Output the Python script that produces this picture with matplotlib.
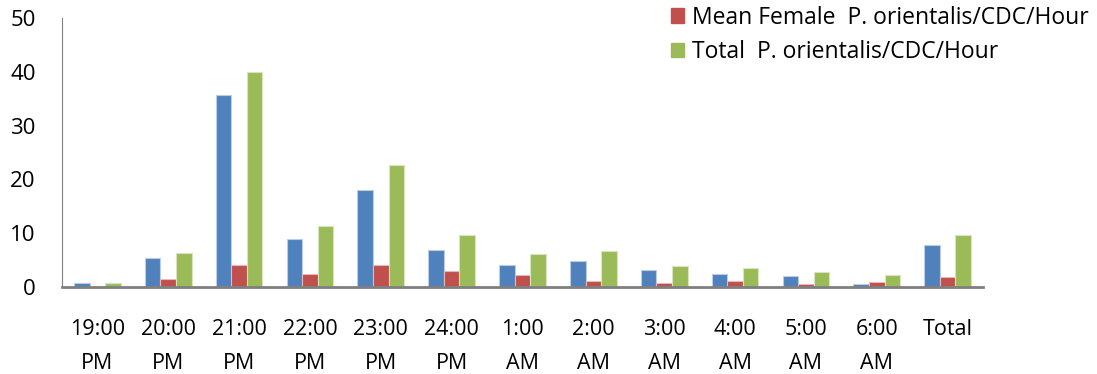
import matplotlib.pyplot as plt
import numpy as np
from matplotlib.patches import Patch

# data
hours = ['19:00\nPM', '20:00\nPM', '21:00\nPM', '22:00\nPM', '23:00\nPM', '24:00\nPM',
         '1:00\nAM', '2:00\nAM', '3:00\nAM', '4:00\nAM', '5:00\nAM', '6:00\nAM', 'Total']
mean_male = [0.8, 5.3, 35.7, 9.0, 18.0, 6.9, 4.0, 4.8, 3.2, 2.5, 2.0, 0.5, 7.75]
mean_female = [0.0, 1.4, 4.0, 2.5, 4.0, 3.0, 2.2, 1.05, 0.7, 1.1, 0.55, 0.9, 1.8]
total = [0.8, 6.3, 40.0, 11.4, 22.7, 9.6, 6.1, 6.6, 3.9, 3.5, 2.7, 2.2, 9.7]

blue, red, green = '#4F81BD', '#C0504D', '#9BBB59'

fig = plt.figure(figsize=(10.97, 3.74), dpi=100)
ax = fig.add_axes([62/1097, 1-287/374, (983-62)/1097, (287-18)/374])

x = np.arange(len(hours))
w = 0.22
ax.bar(x - w, mean_male, w, color=blue, edgecolor='#B9CDE5', linewidth=0.8)
ax.bar(x, mean_female, w, color=red, edgecolor='#E6B9B8', linewidth=0.8)
ax.bar(x + w, total, w, color=green, edgecolor='#D7E4BD', linewidth=0.8)

ax.set_xlim(-0.5, len(hours) - 0.5)
ax.set_ylim(0, 50)
ax.set_yticks(range(0, 51, 10))
ax.set_xticks(x)
ax.set_xticklabels(hours, fontsize=15.5, family=['Open Sans', 'DejaVu Sans'],
                   linespacing=1.8, va='top')
ax.tick_params(axis='y', length=0, labelsize=16, pad=19)
ax.tick_params(axis='x', length=0, pad=23)
for lab in ax.get_yticklabels():
    lab.set_family(['Open Sans', 'DejaVu Sans'])

for s in ['top', 'right']:
    ax.spines[s].set_visible(False)
ax.spines['left'].set_color('#808080')
ax.spines['bottom'].set_color('#808080')
ax.spines['bottom'].set_linewidth(2)

handles = [Patch(color=red), Patch(color=green)]
fig.legend(handles, ['Mean Female  P. orientalis/CDC/Hour', 'Total  P. orientalis/CDC/Hour'],
           loc='upper left', bbox_to_anchor=(650/1097, 1.04), frameon=False,
           prop={'family': ['Open Sans', 'DejaVu Sans'], 'size': 16.5},
           handlelength=0.6, handleheight=0.6, handletextpad=0.35, labelspacing=0.45)

fig.savefig('out.png', dpi=100)
